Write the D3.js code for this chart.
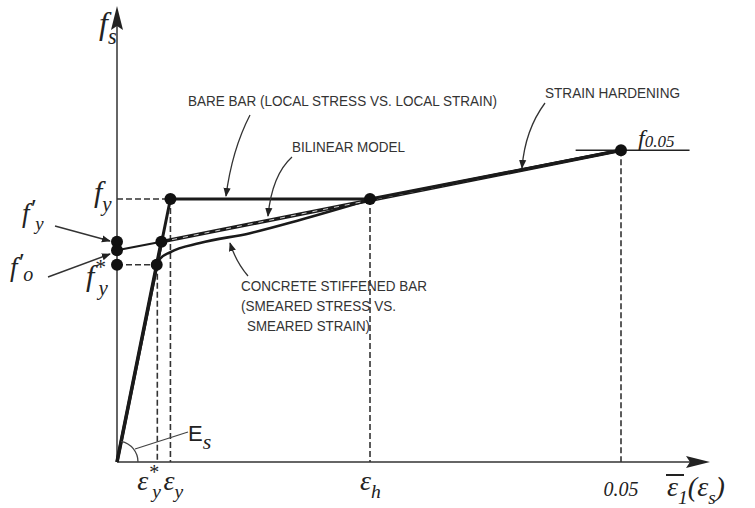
<!DOCTYPE html>
<html lang="en">
<head>
    <meta charset="UTF-8">
    <title>Steel stress-strain models</title>
    <script src="https://d3js.org/d3.v7.min.js"></script>
    <style>
        body { margin: 0; background: #fff; }
        .math { font-family: "Liberation Serif", "Times New Roman", serif; font-style: italic; fill: #222; }
        .note { font-family: "Liberation Sans Narrow", "Arial Narrow", "Liberation Sans", sans-serif; font-size: 14px; fill: #333; }
    </style>
</head>
<body>
<script>
    const width  = 755;
    const height = 508;

    // strain (x) / stress in MPa (y)
    const bareBar    = [[0, 0], [0.0053, 400], [0.0251, 400], [0.05, 474]];
    const bilinear   = [[0, 0], [0.0044, 335], [0.05, 474]];
    const bilinearFo = [[0, 322], [0.0044, 335]];
    const stiffenedCurve = [[0.00394, 300], [0.00427, 309], [0.00526, 319], [0.00823, 333],
                            [0.0132, 348], [0.01815, 368], [0.0249, 398]];
    const stiffenedHard  = [[0.0249, 398], [0.05, 474]];
    const dots = [[0.0053, 400], [0.0044, 335], [0.00394, 300], [0, 335], [0, 322], [0, 300],
                  [0.0251, 400], [0.05, 474]];
    // dashed guides: [x1,y1,x2,y2]
    const guides = [[0, 400, 0.0053, 400], [0.0053, 400, 0.0053, 0],
                    [0, 300, 0.00394, 300], [0.004, 300, 0.004, 0],
                    [0.0251, 400, 0.0251, 0], [0.05, 474, 0.05, 0]];
    const xLabels = [{v: 0.004, t: "ε", sub: "y", sup: "*", dx: -10},
                     {v: 0.0053, t: "ε", sub: "y", dx: 3},
                     {v: 0.0251, t: "ε", sub: "h", dx: 0},
                     {v: 0.05, t: "0.05", dx: 0}];

    const x = d3.scaleLinear().domain([0, 0.05]).range([117, 621]);
    const y = d3.scaleLinear().domain([0, 400]).range([462, 199]);

    const svg = d3.select("body").append("svg").attr("width", width).attr("height", height);

    const defs = svg.append("defs");
    defs.append("marker").attr("id", "ah").attr("viewBox", "0 0 10 10")
        .attr("refX", 9).attr("refY", 5).attr("markerWidth", 9).attr("markerHeight", 9)
        .attr("markerUnits", "userSpaceOnUse").attr("orient", "auto")
        .append("path").attr("d", "M0,1 L10,5 L0,9 Z").attr("fill", "#222");

    // axes
    svg.append("line").attr("x1", x(0)).attr("y1", y(0)).attr("x2", x(0)).attr("y2", 14)
        .attr("stroke", "#666").attr("stroke-width", 2);
    svg.append("path").attr("d", `M${x(0)},6 L${x(0) - 6},30 L${x(0)},26 L${x(0) + 6},30 Z`).attr("fill", "#222");
    svg.append("line").attr("x1", x(0)).attr("y1", y(0)).attr("x2", 700).attr("y2", y(0))
        .attr("stroke", "#666").attr("stroke-width", 2);
    svg.append("path").attr("d", `M710,${y(0)} L686,${y(0) - 6} L690,${y(0)} L686,${y(0) + 6} Z`).attr("fill", "#222");

    // guides
    svg.selectAll(".guide").data(guides).enter().append("line")
        .attr("x1", d => x(d[0])).attr("y1", d => y(d[1]))
        .attr("x2", d => x(d[2])).attr("y2", d => y(d[3]))
        .attr("stroke", "#333").attr("stroke-width", 1.6).attr("stroke-dasharray", "6,3");

    // f0.05 horizontal
    svg.append("line").attr("x1", x(0.0455)).attr("x2", x(0.0568))
        .attr("y1", y(474)).attr("y2", y(474)).attr("stroke", "#222").attr("stroke-width", 1.5);

    const line = d3.line().x(d => x(d[0])).y(d => y(d[1]));
    const curve = d3.line().x(d => x(d[0])).y(d => y(d[1])).curve(d3.curveMonotoneX);

    svg.append("path").attr("d", curve(stiffenedCurve))
        .attr("fill", "none").attr("stroke", "#1a1a1a").attr("stroke-width", 2.6);
    svg.append("path").attr("d", line(stiffenedHard))
        .attr("fill", "none").attr("stroke", "#1a1a1a").attr("stroke-width", 2.6);
    svg.append("path").attr("d", line(bilinearFo))
        .attr("fill", "none").attr("stroke", "#1a1a1a").attr("stroke-width", 2.2);
    svg.append("path").attr("d", line(bilinear))
        .attr("fill", "none").attr("stroke", "#1a1a1a").attr("stroke-width", 3.6);
    svg.append("path").attr("d", line(bilinear.slice(1)))
        .attr("fill", "none").attr("stroke", "#fff").attr("stroke-width", 0.8).attr("stroke-dasharray", "5,6");
    svg.append("path").attr("d", line(bareBar))
        .attr("fill", "none").attr("stroke", "#1a1a1a").attr("stroke-width", 3);

    svg.selectAll(".dot").data(dots).enter().append("circle")
        .attr("cx", d => x(d[0])).attr("cy", d => y(d[1])).attr("r", 6).attr("fill", "#111");

    // Es angle
    const a1 = Math.atan2(y(0) - y(400), x(0.0053) - x(0));
    svg.append("path").attr("d", d3.arc().innerRadius(21).outerRadius(21)
            .startAngle(Math.PI / 2 - a1).endAngle(Math.PI / 2)())
        .attr("transform", `translate(${x(0)},${y(0)})`).attr("fill", "none")
        .attr("stroke", "#444").attr("stroke-width", 1.3);
    svg.append("line").attr("x1", 135).attr("y1", 449).attr("x2", 188).attr("y2", 432)
        .attr("stroke", "#444").attr("stroke-width", 1.3);
    const es = svg.append("text").attr("x", 188).attr("y", 441)
        .style("font-family", "Liberation Sans, sans-serif").style("font-size", "22px").style("fill", "#222");
    es.append("tspan").text("E");
    es.append("tspan").attr("class", "math").attr("dy", 8).style("font-size", "22px").text("s");

    // math label: base, then superscript and subscript after it
    function mathLabel(px, py, base, sub, sup, size, subSize, subDy) {
        const t = svg.append("text").attr("class", "math").attr("x", px).attr("y", py)
            .style("font-size", size + "px");
        t.append("tspan").text(base);
        const ss = subSize || size * 0.7;
        const prime = sup === "′";
        const supSize = prime ? size * 0.95 : size * 0.72;
        const supDy = prime ? -size * 0.18 : -size * 0.4;
        if (sup) t.append("tspan").attr("dy", supDy).style("font-size", supSize + "px").text(sup);
        if (sub) t.append("tspan").attr("dx", sup && !prime ? -size * 0.22 : 0)
            .attr("dy", (sup ? -supDy : 0) + (subDy != null ? subDy : size * 0.3))
            .style("font-size", ss + "px").text(sub);
        return t;
    }

    mathLabel(99, 34, "f", "s", null, 32);
    mathLabel(94, 202, "f", "y", null, 30);
    mathLabel(86, 286, "f", "y", "*", 30);
    mathLabel(22, 222, "f", "y", "′", 27);
    mathLabel(10, 276, "f", "o", "′", 27, 20, 5);
    mathLabel(638, 146, "f", "0.05", null, 24, 17, 1);

    svg.selectAll(".xl").data(xLabels).enter().each(function (d) {
        if (d.sub) mathLabel(x(d.v) + d.dx - 10, 490, d.t, d.sub, d.sup, 28);
        else svg.append("text").attr("class", "math").attr("x", x(d.v)).attr("y", 496)
            .attr("text-anchor", "middle").style("font-size", "20px").text(d.t);
    });
    const xt = mathLabel(667, 496, "ε", "1", null, 28);
    xt.append("tspan").attr("dy", -8).text("(ε");
    xt.append("tspan").attr("dy", 8).style("font-size", "19px").text("s");
    xt.append("tspan").attr("dy", -8).text(")");
    svg.append("line").attr("x1", 666).attr("x2", 684).attr("y1", 475).attr("y2", 475)
        .attr("stroke", "#222").attr("stroke-width", 2);

    // arrows to primes
    svg.append("line").attr("x1", 55).attr("y1", 226).attr("x2", 110).attr("y2", 241)
        .attr("stroke", "#333").attr("stroke-width", 1.4).attr("marker-end", "url(#ah)");
    svg.append("line").attr("x1", 48).attr("y1", 277).attr("x2", 110).attr("y2", 254)
        .attr("stroke", "#333").attr("stroke-width", 1.4).attr("marker-end", "url(#ah)");

    // notes
    const notes = [
        {t: "BARE BAR (LOCAL STRESS VS. LOCAL STRAIN)", x: 188, y: 106, w: 309},
        {t: "BILINEAR MODEL", x: 292, y: 152, w: 113},
        {t: "STRAIN HARDENING", x: 545, y: 98, w: 135},
        {t: "CONCRETE STIFFENED BAR", x: 241, y: 291, w: 186},
        {t: "(SMEARED STRESS VS.", x: 241, y: 311, w: 155},
        {t: "SMEARED STRAIN)", x: 247, y: 331, w: 123}
    ];
    svg.selectAll(".note").data(notes).enter().append("text").attr("class", "note")
        .attr("x", d => d.x).attr("y", d => d.y).attr("textLength", d => d.w)
        .attr("lengthAdjust", "spacingAndGlyphs").text(d => d.t);

    const leaders = [
        "M250,115 Q232,150 226,196",
        "M292,157 Q272,175 268,216",
        "M545,103 Q525,130 522,168",
        "M248,276 Q236,262 230,243"
    ];
    svg.selectAll(".leader").data(leaders).enter().append("path")
        .attr("d", d => d).attr("fill", "none").attr("stroke", "#333").attr("stroke-width", 1.3)
        .attr("marker-end", "url(#ah)");
</script>
</body>
</html>
